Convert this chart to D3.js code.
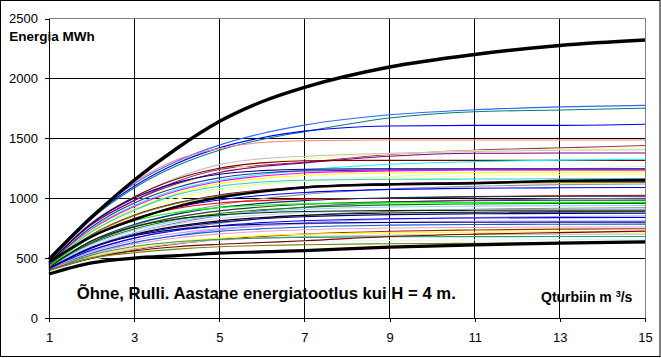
<!DOCTYPE html>
<html><head><meta charset="utf-8">
<script src="https://cdn.jsdelivr.net/npm/d3@7"></script>
<style>
body{margin:0;background:#fff}
svg{display:block}
text{font-family:Arial,"Liberation Sans",sans-serif;fill:#000}
</style>
</head><body><svg id="c" width="661" height="358"></svg>
<script>
// ---- data ----
const qValues = [1, 2, 3, 4, 5, 6, 7, 9, 11, 13, 15];
const xTicks = [1, 3, 5, 7, 9, 11, 13, 15];
const yTicks = [0, 500, 1000, 1500, 2000, 2500];

const thinSeries = [
  [490, 856, 1121, 1308, 1443, 1540, 1610, 1696, 1738, 1762, 1775],
  [485, 830, 1085, 1270, 1400, 1490, 1556, 1670, 1722, 1736, 1752],
  [485, 840, 1100, 1290, 1420, 1505, 1560, 1603, 1608, 1608, 1617],
  [485, 850, 1130, 1320, 1415, 1465, 1480, 1486, 1486, 1486, 1486],
  [470, 780, 980, 1140, 1240, 1275, 1300, 1365, 1400, 1420, 1440],
  [460, 760, 960, 1110, 1220, 1290, 1330, 1370, 1395, 1410, 1420],
  [470, 800, 1010, 1170, 1280, 1330, 1350, 1375, 1390, 1400, 1405],
  [465, 780, 980, 1120, 1215, 1265, 1295, 1350, 1375, 1377, 1377],
  [460, 790, 1010, 1160, 1250, 1295, 1312, 1316, 1316, 1316, 1316],
  [455, 750, 940, 1070, 1150, 1200, 1235, 1283, 1305, 1318, 1325],
  [450, 720, 900, 1010, 1080, 1120, 1150, 1180, 1215, 1245, 1267],
  [455, 790, 1000, 1130, 1200, 1230, 1242, 1245, 1245, 1245, 1245],
  [450, 760, 960, 1090, 1170, 1210, 1228, 1236, 1238, 1238, 1238],
  [450, 740, 930, 1060, 1140, 1185, 1210, 1228, 1235, 1236, 1236],
  [445, 730, 910, 1040, 1120, 1165, 1190, 1210, 1215, 1218, 1220],
  [440, 700, 870, 990, 1065, 1110, 1140, 1170, 1185, 1195, 1200],
  [445, 720, 900, 1030, 1100, 1135, 1150, 1158, 1160, 1162, 1165],
  [440, 696, 858, 961, 1027, 1068, 1095, 1122, 1132, 1137, 1139],
  [440, 693, 854, 956, 1021, 1062, 1088, 1115, 1125, 1130, 1132],
  [435, 630, 771, 871, 943, 995, 1032, 1077, 1100, 1113, 1119],
  [440, 677, 828, 924, 985, 1023, 1048, 1073, 1083, 1087, 1089],
  [435, 680, 830, 915, 960, 980, 992, 1000, 1013, 1020, 1025],
  [430, 645, 781, 867, 923, 957, 980, 1003, 1012, 1016, 1017],
  [430, 593, 710, 793, 853, 896, 927, 965, 984, 995, 1000],
  [425, 629, 759, 842, 894, 927, 949, 970, 979, 983, 984],
  [430, 679, 811, 883, 921, 941, 953, 961, 964, 965, 965],
  [425, 620, 743, 822, 872, 903, 923, 944, 952, 956, 957],
  [425, 613, 732, 808, 857, 887, 907, 927, 934, 938, 939],
  [420, 563, 666, 739, 792, 830, 857, 890, 907, 916, 920],
  [420, 599, 713, 785, 831, 860, 878, 897, 905, 908, 909],
  [420, 643, 762, 827, 861, 879, 889, 897, 899, 900, 900],
  [415, 588, 697, 767, 811, 839, 857, 876, 883, 886, 887],
  [415, 583, 690, 757, 800, 828, 845, 863, 870, 873, 874],
  [410, 536, 627, 691, 738, 771, 795, 824, 839, 847, 851],
  [410, 567, 667, 730, 770, 796, 812, 829, 835, 838, 839],
  [405, 554, 648, 708, 746, 770, 786, 801, 808, 810, 811],
  [405, 589, 687, 740, 768, 783, 791, 797, 799, 800, 800],
  [400, 541, 630, 686, 723, 745, 760, 775, 781, 783, 784],
  [400, 531, 615, 668, 702, 723, 737, 751, 756, 759, 759],
  [395, 495, 567, 618, 655, 681, 700, 724, 735, 742, 745],
  [395, 514, 589, 637, 667, 687, 699, 712, 716, 719, 719],
  [395, 506, 577, 622, 651, 669, 680, 692, 697, 699, 700],
  [390, 525, 597, 636, 656, 667, 673, 678, 679, 680, 680],
  [390, 487, 548, 587, 612, 628, 638, 648, 652, 654, 654],
  [400, 500, 560, 595, 615, 630, 645, 680, 700, 713, 725],
  [395, 500, 545, 575, 595, 605, 612, 620, 624, 627, 628]
];
const thinColors = [
  "#3366FF","#008080","#0000FF","#FF8080","#993366","#FFFF99","#C0C0C0","#800080",
  "#800000","#00FFFF","#CCFFCC","#000080","#333399","#FF00FF","#FFFF00","#FFFF99",
  "#33CCCC","#660066","#808000","#969696","#0000FF","#FF0000","#003366","#666699",
  "#333333","#00FF00","#008000","#99CCFF","#808080","#CCCCFF","#003300","#000000",
  "#000080","#9999FF","#0000FF","#CC99FF","#000080","#0066CC","#FF99CC","#993300",
  "#FFFF00","#C0C0C0","#339966","#CCFFFF","#800000","#808000"
];

const midSeries    = [465, 680, 820, 930, 1005, 1055, 1090, 1115, 1125, 1145, 1152];
const bottomSeries = [367, 460, 500, 520, 541, 552, 563, 592, 610, 625, 636];
const topSeries    = [490, 840, 1150, 1415, 1640, 1805, 1925, 2095, 2200, 2275, 2320];

// ---- drawing ----
const svg = d3.select("#c");
const L = 49, R = 645, T = 18.5, B = 318;
const x = d3.scaleLinear().domain([1, 15]).range([L, R]);
const y = d3.scaleLinear().domain([0, 2500]).range([B, T]);

svg.append("rect").attr("x",0).attr("y",0).attr("width",661).attr("height",358).attr("fill","#fff");
svg.append("rect").attr("x",0.5).attr("y",0.5).attr("width",659.5).attr("height",356)
  .attr("fill","none").attr("stroke","#000").attr("stroke-width",1);

// plot border (grey top/right)
svg.append("rect").attr("x",L).attr("y",T).attr("width",R-L).attr("height",B-T)
  .attr("fill","#fff").attr("stroke","#808080").attr("stroke-width",1).attr("shape-rendering","crispEdges");

// gridlines
const grid = svg.append("g").attr("shape-rendering","crispEdges");
grid.selectAll("line.h").data(yTicks.filter(v => v > 0 && v < 2500)).join("line")
  .attr("x1",L).attr("x2",R).attr("y1",d=>y(d)).attr("y2",d=>y(d)).attr("stroke","#000");
grid.selectAll("line.v").data(xTicks.filter(v => v > 1 && v < 15)).join("line")
  .attr("y1",T).attr("y2",B).attr("x1",d=>x(d)).attr("x2",d=>x(d)).attr("stroke","#000");

// series
const line = d3.line().x((d,i) => x(qValues[i])).y(d => y(d)).curve(d3.curveMonotoneX);
const lines = svg.append("g").attr("fill","none");
thinSeries.forEach((s,i) => {
  lines.append("path").attr("d", line(s)).attr("stroke", thinColors[i])
    .attr("stroke-width",1.1);
});
[[midSeries,2.5],[bottomSeries,3.2],[topSeries,3.4]].forEach(([s,w]) => {
  lines.append("path").attr("d", line(s)).attr("stroke","#000").attr("stroke-width",w);
});

// axes
const yAxis = svg.append("g").attr("transform",`translate(${L},0)`)
  .call(d3.axisLeft(y).tickValues(yTicks).tickFormat(d3.format("d")).tickSize(4).tickPadding(7).tickSizeOuter(0));
const xAxis = svg.append("g").attr("transform",`translate(0,${B})`)
  .call(d3.axisBottom(x).tickValues(xTicks).tickFormat(d3.format("d")).tickSize(4).tickPadding(11).tickSizeOuter(0));
[yAxis, xAxis].forEach(g => {
  g.attr("shape-rendering","crispEdges");
  g.selectAll("path,line").attr("stroke","#000");
  g.selectAll("text").attr("font-size","13px").attr("font-family","Arial, 'Liberation Sans', sans-serif").attr("fill","#000");
});

// labels
svg.append("text").attr("x",9.3).attr("y",40.7).attr("font-size","13.5px").attr("font-weight","bold")
  .text("Energia MWh");
svg.append("text").attr("x",76.7).attr("y",299.3).attr("font-size","16.7px").attr("font-weight","bold")
  .text("Õhne, Rulli. Aastane energiatootlus kui H = 4 m.");
const q = svg.append("text").attr("x",541).attr("y",301.7).attr("font-size","14px").attr("font-weight","bold");
q.append("tspan").text("Qturbiin m ");
q.append("tspan").attr("font-size","9px").attr("dy","-5").text("3");
q.append("tspan").attr("dy","5").text("/s");
</script>
</body></html>
